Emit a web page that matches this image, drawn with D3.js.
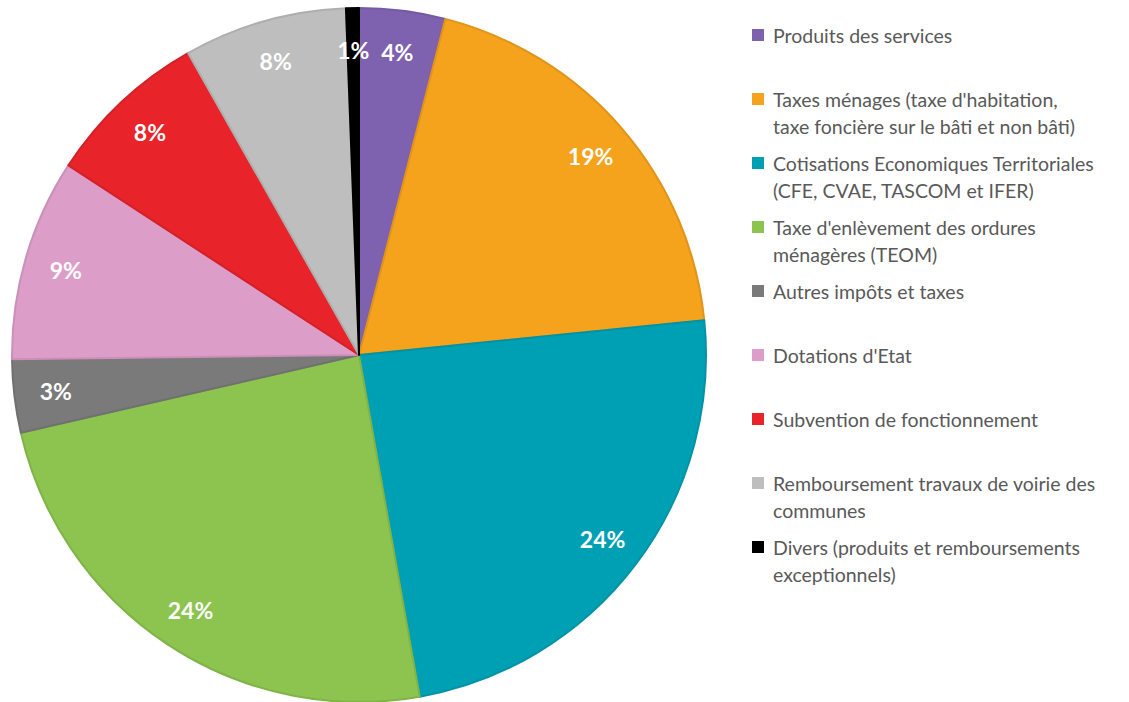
<!DOCTYPE html>
<html>
<head>
<meta charset="utf-8">
<script src="https://cdn.jsdelivr.net/npm/d3@7"></script>
<style>
  html, body { margin: 0; padding: 0; background: #ffffff; }
  svg { display: block; }
</style>
</head>
<body>
<svg id="chart" width="1129" height="702"></svg>
<script>
// ---- Data ----
const categories = [
  "Produits des services",
  "Taxes ménages (taxe d'habitation, taxe foncière sur le bâti et non bâti)",
  "Cotisations Economiques Territoriales (CFE, CVAE, TASCOM et IFER)",
  "Taxe d'enlèvement des ordures ménagères (TEOM)",
  "Autres impôts et taxes",
  "Dotations d'Etat",
  "Subvention de fonctionnement",
  "Remboursement travaux de voirie des communes",
  "Divers (produits et remboursements exceptionnels)"
];
const legendLines = [
  ["Produits des services"],
  ["Taxes ménages (taxe d'habitation,", "taxe foncière sur le bâti et non bâti)"],
  ["Cotisations Economiques Territoriales", "(CFE, CVAE, TASCOM et IFER)"],
  ["Taxe d'enlèvement des ordures", "ménagères (TEOM)"],
  ["Autres impôts et taxes"],
  ["Dotations d'Etat"],
  ["Subvention de fonctionnement"],
  ["Remboursement travaux de voirie des", "communes"],
  ["Divers (produits et remboursements", "exceptionnels)"]
];
const values = [4.0, 19.4, 23.8, 24.2, 3.4, 9.4, 7.6, 7.6, 0.6];
const colors = ["#7E62B0", "#F5A21C", "#00A0B4", "#8CC44F", "#7A7A7A", "#DD9DC9", "#E8232A", "#BEBEBE", "#000000"];

// ---- Layout ----
const svg = d3.select("#chart");
const cx = 359, cy = 355, R = 347;

const pie = d3.pie().sort(null).value(d => d)
  .startAngle(0).endAngle(2 * Math.PI);
const arcs = pie(values);
const arc = d3.arc().innerRadius(0).outerRadius(R);
const labelArc = d3.arc().innerRadius(R * 0.88).outerRadius(R * 0.88);

const g = svg.append("g").attr("transform", `translate(${cx},${cy})`);

g.selectAll("path.slice")
  .data(arcs)
  .join("path")
  .attr("class", "slice")
  .attr("d", arc)
  .attr("fill", (d, i) => colors[i])
  .attr("stroke", (d, i) => d3.color(colors[i]).darker(0.25))
  .attr("stroke-width", 2)
  .attr("stroke-linejoin", "round");

g.selectAll("text.pct")
  .data(arcs)
  .join("text")
  .attr("class", "pct")
  .attr("transform", d => `translate(${labelArc.centroid(d)})`)
  .attr("text-anchor", "middle")
  .attr("dominant-baseline", "central")
  .attr("fill", "#ffffff")
  .attr("font-family", "Lato, 'Open Sans', sans-serif")
  .attr("font-weight", "bold")
  .attr("font-size", 23)
  .text(d => Math.round(d.value) + "%");

// ---- Legend ----
const legend = svg.append("g").attr("class", "legend");
const ly0 = 35, lstep = 64, lline = 27;
const items = legend.selectAll("g.item")
  .data(categories)
  .join("g")
  .attr("class", "item")
  .attr("transform", (d, i) => `translate(752,${ly0 + i * lstep})`);

items.append("rect")
  .attr("x", 0).attr("y", -6)
  .attr("width", 12).attr("height", 12)
  .attr("fill", (d, i) => colors[i]);

items.each(function(d, i) {
  const t = d3.select(this).append("text")
    .attr("x", 21)
    .attr("fill", "#595959")
    .attr("font-family", "Lato, 'Open Sans', sans-serif")
    .attr("font-size", 19.5);
  legendLines[i].forEach((line, k) => {
    t.append("tspan")
      .attr("x", 21)
      .attr("y", k * lline)
      .attr("dominant-baseline", "central")
      .text(line);
  });
});
</script>
</body>
</html>
